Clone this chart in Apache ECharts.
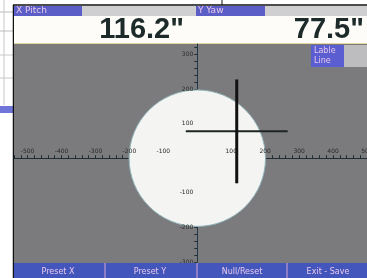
<!DOCTYPE html>
<html><head><meta charset="utf-8">
<script src="https://cdn.jsdelivr.net/npm/echarts@6/dist/echarts.min.js"></script>
<style>html,body{margin:0;padding:0;background:#fff}#c{width:367px;height:278px}</style>
</head><body><div id="c"></div>
<script>
// ---- data ----
const xLabelValues = [-500,-400,-300,-200,-100,100,200,300,400,500];
const yLabelValues = [-300,-200,-100,100,200,300];
const pitchValue = 116.2;
const yawValue = 77.5;
const crossHalf = 150;
const circleRadius = 201;
const headerLabels = ['X Pitch','Y Yaw'];
const buttonLabels = ['Preset X','Preset Y','Null/Reset','Exit - Save'];
const sideLabels = ['Lable','Line'];

function range(a,b,s){const r=[];for(let v=a;v<=b;v+=s)r.push(v);return r;}
const xMinor = range(-540,500,20);
const yMinor = range(-300,320,20);

const chart = echarts.init(document.getElementById('c'), null, {renderer:'canvas'});
const blue = '#5a5ec6', btnBlue = '#4256bb', txtPink = '#e8c8ec', axisCol = '#1f2f33';

const btnCenters = [58,150,242,328];
const graphics = [
  {type:'line',shape:{x1:4,y1:0,x2:4,y2:105},style:{stroke:'#c8c8c8',lineWidth:1},z:-10},
  {type:'line',shape:{x1:0,y1:12,x2:13,y2:12},style:{stroke:'#bbbbbb',lineWidth:1},z:-10},
  {type:'line',shape:{x1:0,y1:31,x2:13,y2:31},style:{stroke:'#bbbbbb',lineWidth:1},z:-10},
  {type:'line',shape:{x1:0,y1:55,x2:13,y2:55},style:{stroke:'#c8c8c8',lineWidth:1},z:-10},
  {type:'line',shape:{x1:0,y1:78,x2:13,y2:78},style:{stroke:'#c8c8c8',lineWidth:1},z:-10},
  {type:'rect',shape:{x:0,y:106,width:13,height:7},style:{fill:'#6f74d8'},z:-10},
  {type:'line',shape:{x1:13,y1:5,x2:367,y2:5},style:{stroke:'#111',lineWidth:1.5},z:-5},
  {type:'line',shape:{x1:222,y1:0,x2:222,y2:5},style:{stroke:'#111',lineWidth:1},z:-5},
  {type:'line',shape:{x1:13.5,y1:5,x2:13.5,y2:278},style:{stroke:'#111',lineWidth:1.5},z:-5},
  {type:'rect',shape:{x:14,y:6,width:353,height:10},style:{fill:'#cfcfd2'},z:-5},
  {type:'rect',shape:{x:14,y:6,width:68,height:10},style:{fill:blue},z:-4},
  {type:'rect',shape:{x:196,y:6,width:69,height:10},style:{fill:blue},z:-4},
  {type:'text',x:16,y:11,style:{text:headerLabels[0],fill:txtPink,font:'9px "DejaVu Sans"',verticalAlign:'middle'},z:-3},
  {type:'text',x:198,y:11,style:{text:headerLabels[1],fill:txtPink,font:'9px "DejaVu Sans"',verticalAlign:'middle'},z:-3},
  {type:'rect',shape:{x:14,y:16,width:353,height:27},style:{fill:'#fdfcf8'},z:-5},
  {type:'text',x:184,y:30,style:{text:pitchValue.toFixed(1)+'"',fill:'#1c2a2a',font:'bold 29px "Liberation Sans"',align:'right',verticalAlign:'middle'},z:-3},
  {type:'text',x:364,y:30,style:{text:yawValue.toFixed(1)+'"',fill:'#1c2a2a',font:'bold 29px "Liberation Sans"',align:'right',verticalAlign:'middle'},z:-3},
  {type:'line',shape:{x1:14,y1:43.5,x2:367,y2:43.5},style:{stroke:'#e6d6a0',lineWidth:1},z:-4},
  {type:'rect',shape:{x:14,y:44,width:353,height:219},style:{fill:'#7b7b7e'},z:-5},
  {type:'rect',shape:{x:311,y:45,width:33,height:22},style:{fill:'#5b5ed0'},z:5},
  {type:'rect',shape:{x:344,y:45,width:23,height:22},style:{fill:'#bdbdc0'},z:5},
  {type:'text',x:314,y:51,style:{text:sideLabels[0],fill:txtPink,font:'8px "DejaVu Sans"',verticalAlign:'middle'},z:6},
  {type:'text',x:314,y:61,style:{text:sideLabels[1],fill:txtPink,font:'8px "DejaVu Sans"',verticalAlign:'middle'},z:6},
  {type:'rect',shape:{x:14,y:263,width:353,height:15},style:{fill:btnBlue},z:5},
  {type:'line',shape:{x1:105,y1:263,x2:105,y2:278},style:{stroke:'#d8a8d0',lineWidth:1},z:6},
  {type:'line',shape:{x1:197,y1:263,x2:197,y2:278},style:{stroke:'#d8a8d0',lineWidth:1},z:6},
  {type:'line',shape:{x1:287,y1:263,x2:287,y2:278},style:{stroke:'#d8a8d0',lineWidth:1},z:6}
];
buttonLabels.forEach((t,i)=>{
  graphics.push({type:'text',x:btnCenters[i],y:272,style:{text:t,fill:txtPink,font:'8px "DejaVu Sans"',align:'center',verticalAlign:'middle'},z:7});
});

const labelFont = '6px "DejaVu Sans"';
chart.setOption({
  animation:false,
  backgroundColor:'#ffffff',
  graphic:graphics,
  grid:{left:14,right:0,top:44,bottom:16,containLabel:false},
  xAxis:{type:'value',min:-540,max:500,
    axisLine:{onZero:true,lineStyle:{color:axisCol,width:1}},
    axisTick:{show:true,inside:true,length:3,customValues:xMinor,lineStyle:{color:axisCol}},
    axisLabel:{show:false},
    splitLine:{show:false}},
  yAxis:{type:'value',min:-300,max:330,
    axisLine:{onZero:true,lineStyle:{color:'#1f3a44',width:1}},
    axisTick:{show:true,length:3,customValues:yMinor,lineStyle:{color:axisCol}},
    axisLabel:{show:false},
    splitLine:{show:false}},
  series:[
    {type:'custom',z:1,silent:true,data:[[0,0,circleRadius]],
      renderItem:function(params,api){
        const c=api.coord([api.value(0),api.value(1)]);
        const r=api.size([api.value(2),0])[0];
        return {type:'circle',shape:{cx:c[0],cy:c[1],r:r},style:{fill:'#f4f4f2',stroke:'#8fb3b8',lineWidth:1}};
      }},
    {type:'custom',z:3,silent:true,data:xLabelValues.map(v=>[v,0]),
      renderItem:function(params,api){
        const v=api.value(0);const p=api.coord([v,0]);
        return {type:'text',x:p[0],y:p[1]-4,style:{text:String(v),fill:'#2a2a2a',font:labelFont,align:'center',verticalAlign:'bottom'}};
      }},
    {type:'custom',z:3,silent:true,data:yLabelValues.map(v=>[0,v]),
      renderItem:function(params,api){
        const v=api.value(1);const p=api.coord([0,v]);
        return {type:'text',x:p[0]-4,y:p[1],style:{text:String(v),fill:'#2a2a2a',font:labelFont,align:'right',verticalAlign:'middle'}};
      }},
    {type:'custom',z:10,silent:true,data:[[pitchValue,yawValue,crossHalf]],
      renderItem:function(params,api){
        const x=api.value(0),y=api.value(1),h=api.value(2);
        const a=api.coord([x-h,y]),b=api.coord([x+h,y]);
        const c=api.coord([x,y-h]),d=api.coord([x,y+h]);
        return {type:'group',children:[
          {type:'line',shape:{x1:a[0],y1:a[1],x2:b[0],y2:b[1]},style:{stroke:'#1e2424',lineWidth:2}},
          {type:'line',shape:{x1:c[0],y1:c[1],x2:d[0],y2:d[1]},style:{stroke:'#111',lineWidth:3}}
        ]};
      }}
  ]
});
</script></body></html>
